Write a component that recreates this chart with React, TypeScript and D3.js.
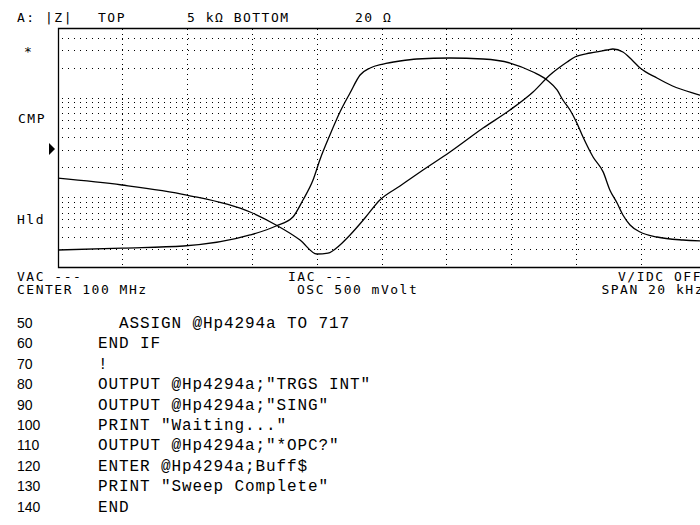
import React from 'react';
import * as d3 from 'd3';

// Sweep offset from 100 MHz centre, in kHz
const freqA = [-10, -8, -6, -4.05, -3.25, -2.51, -1.99, -1.65, -1.28, -0.97, -0.51, -0.05, 0.57, 1.28, 2.11, 3.13, 3.96, 4.67, 5.19, 5.72, 5.96, 6.43, 6.95, 7.13, 7.44, 7.72, 7.97, 8.49, 8.97, 9.81, 10];
const zA = [156, 133, 105.5, 71.3, 52.8, 37.3, 27.0, 27.6, 33.3, 41.9, 62, 94, 130, 188, 285, 496, 752, 1140, 1688, 2279, 2559, 2806, 3008, 3078, 2872, 2387, 1984, 1575, 1309, 1063, 1016];

const freqB = [-10, -8, -6.1, -4.05, -3.25, -2.73, -2.42, -2.11, -1.9, -1.59, -1.28, -0.97, -0.66, -0.35, 0.05, 0.57, 1.09, 2.11, 3.13, 3.96, 4.67, 5.1, 5.41, 5.59, 5.81, 6.02, 6.21, 6.52, 6.83, 7.04, 7.26, 7.44, 7.66, 7.97, 8.49, 9.29, 10];
const zB = [29.6, 31.0, 32.5, 41.9, 51.6, 63.5, 94, 149, 237, 422, 718, 1114, 1688, 1984, 2176, 2333, 2443, 2500, 2443, 2227, 1809, 1504, 1194, 948, 752, 557, 403, 254, 180, 118, 87.7, 66.5, 52.8, 44.9, 40.0, 37.3, 36.5];

const freqGrid = [-8, -6, -4, -2, 0, 2, 4, 6, 8];
const zGrid = [30, 40, 50, 60, 70, 80, 90, 100, 200, 300, 400, 500, 600, 700, 800, 900, 1000, 2000, 3000, 4000];

const codeNums = ['50', '60', '70', '80', '90', '100', '110', '120', '130', '140'];
const codeText = [
  '  ASSIGN @Hp4294a TO 717',
  'END IF',
  '!',
  'OUTPUT @Hp4294a;"TRGS INT"',
  'OUTPUT @Hp4294a;"SING"',
  'PRINT "Waiting..."',
  'OUTPUT @Hp4294a;"*OPC?"',
  'ENTER @Hp4294a;Buff$',
  'PRINT "Sweep Complete"',
  'END',
];

const scr = { fontFamily: 'DejaVu Sans Mono', fontSize: 13, letterSpacing: 1.5, fill: '#000' } as const;

export default function App() {
  const x = d3.scaleLinear().domain([-10, 10]).range([57, 706]);
  const y = d3.scaleLog().domain([20, 5000]).range([267, 28]);
  const line = d3.line<[number, number]>().x(d => x(d[0])).y(d => y(d[1])).curve(d3.curveMonotoneX);
  const dA = line(freqA.map((f, i) => [f, zA[i]] as [number, number])) || '';
  const dB = line(freqB.map((f, i) => [f, zB[i]] as [number, number])) || '';
  const left = 58, right = 700;

  return (
    <svg width={700} height={525} style={{ position: 'absolute', left: 0, top: 0, background: '#fff' }}>
      <rect x={0} y={0} width={700} height={525} fill="#fff" />
      {/* header */}
      <text x={17} y={22} {...scr}>A:</text>
      <text x={45} y={22} {...scr}>|Z|</text>
      <text x={98} y={22} {...scr}>TOP</text>
      <text x={187} y={22} {...scr}>5 kΩ BOTTOM</text>
      <text x={355} y={22} {...scr}>20 Ω</text>

      {/* grid */}
      <g stroke="#000" strokeWidth={1}>
        {zGrid.map(v => (
          <line key={'h' + v} x1={left + 4} x2={right} y1={Math.round(y(v)) + 0.5} y2={Math.round(y(v)) + 0.5} strokeDasharray="1,5" />
        ))}
        {freqGrid.map(f => (
          <line key={'v' + f} x1={Math.round(x(f)) + 0.5} x2={Math.round(x(f)) + 0.5} y1={29} y2={266} strokeDasharray="1,4" />
        ))}
      </g>

      {/* frame */}
      <path d={`M${right},28.5H${left + 0.5}V267.5H${right}`} fill="none" stroke="#000" strokeWidth={1.3} />

      {/* traces */}
      <defs>
        <clipPath id="plotclip"><rect x={left} y={28} width={right - left} height={240} /></clipPath>
      </defs>
      <g clipPath="url(#plotclip)">
        <path d={dA} fill="none" stroke="#000" strokeWidth={1.3} />
        <path d={dB} fill="none" stroke="#000" strokeWidth={1.3} />
      </g>

      {/* left annotations */}
      <text x={24} y={56} {...scr}>*</text>
      <text x={18} y={123} {...scr}>CMP</text>
      <polygon points="49,143 55,149 49,155" fill="#000" />
      <text x={17} y={224} {...scr}>Hld</text>

      {/* bottom annotations */}
      <text x={17} y={281} {...scr}>VAC ---</text>
      <text x={17} y={293.5} {...scr}>CENTER 100 MHz</text>
      <text x={288} y={281} {...scr}>IAC ---</text>
      <text x={297} y={293.5} {...scr}>OSC 500 mVolt</text>
      <text x={702} y={281} textAnchor="end" {...scr}>V/IDC OFF</text>
      <text x={704} y={293.5} textAnchor="end" {...scr}>SPAN 20 kHz</text>

      {/* program listing */}
      {codeNums.map((n, i) => (
        <g key={n}>
          <text x={17} y={328 + i * 20.4} fontFamily="Liberation Sans" fontSize={14} fill="#000">{n}</text>
          <text x={98} y={328 + i * 20.4} fontFamily="Liberation Mono" fontSize={16} letterSpacing={0.9} fill="#000" style={{ whiteSpace: 'pre' }}>{codeText[i]}</text>
        </g>
      ))}
    </svg>
  );
}
